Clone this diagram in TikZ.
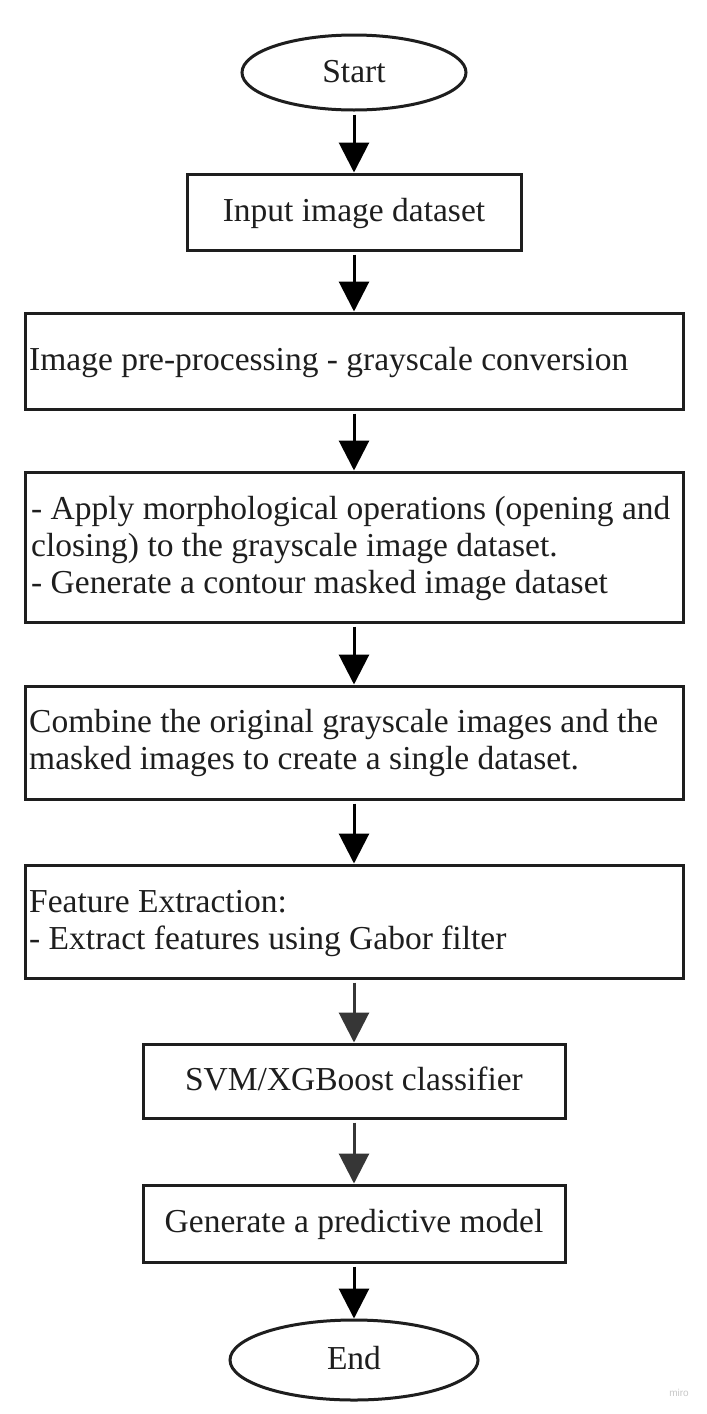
\documentclass[tikz,border=0pt]{standalone}
\usepackage{fontspec}
\setmainfont{Liberation Serif}
\newfontfamily\mirofont{Liberation Sans}
\usetikzlibrary{arrows.meta,shapes.geometric}
\definecolor{ink}{HTML}{1E1E1E}
\definecolor{greyarrow}{HTML}{363636}
\definecolor{mirogrey}{HTML}{C8C8C8}
\tikzset{
  x=1pt, y=-1pt,
  flowbox/.style={draw=ink, line width=3pt, rectangle, inner sep=0pt},
  term/.style={draw=ink, line width=3pt, ellipse, inner sep=0pt},
  lbl/.style={font=\fontsize{33.5}{37}\selectfont, text=ink, inner sep=0pt},
  lblw/.style={lbl, anchor=base west, align=left},
  flow/.style={line width=3pt, draw=black, -{Triangle[width=30pt,length=30pt]}, shorten >=0pt},
  flowgrey/.style={flow, draw=greyarrow, -{Triangle[width=30pt,length=30pt,fill=greyarrow]}}
}
\begin{document}
\begin{tikzpicture}
\useasboundingbox[fill=white] (0,0) rectangle (707,1414);
% nodes
\node[term, minimum width=224pt, minimum height=75pt] (start) at (354,72.5) {};
\node[lbl, anchor=base] (startt) at (354,82) {Start};

\node[flowbox, minimum width=334pt, minimum height=76pt] (b1) at (354,212) {};
\node[lbl, anchor=base] (b1t) at (354,221) {Input image dataset};

\node[flowbox, minimum width=658pt, minimum height=96pt] (b2) at (354,361) {};
\node[lblw] (b2t) at (29,370) {Image pre-processing - grayscale conversion};

\node[flowbox, minimum width=658pt, minimum height=150pt] (b3) at (354,547) {};
\node[lblw] (b3a) at (31,519) {- Apply morphological operations (opening and};
\node[lblw] (b3b) at (31,556) {closing) to the grayscale image dataset.};
\node[lblw] (b3c) at (31,593) {- Generate a contour masked image dataset};

\node[flowbox, minimum width=658pt, minimum height=113pt] (b4) at (354,742.5) {};
\node[lblw] (b4a) at (29,732) {Combine the original grayscale images and the};
\node[lblw] (b4b) at (29,769) {masked images to create a single dataset.};

\node[flowbox, minimum width=658pt, minimum height=113pt] (b5) at (354,921.5) {};
\node[lblw] (b5a) at (29,912) {Feature Extraction:};
\node[lblw] (b5b) at (29,949) {- Extract features using Gabor filter};

\node[flowbox, minimum width=422pt, minimum height=74pt] (b6) at (354,1081) {};
\node[lbl, anchor=base] (b6t) at (354,1090) {SVM/XGBoost classifier};

\node[flowbox, minimum width=422pt, minimum height=77pt] (b7) at (354,1223.5) {};
\node[lbl, anchor=base] (b7t) at (354,1232) {Generate a predictive model};

\node[term, minimum width=248pt, minimum height=80pt] (end) at (354,1360) {};
\node[lbl, anchor=base] (endt) at (354,1369) {End};

\node[font=\mirofont\fontsize{10}{11}\selectfont, text=mirogrey, inner sep=0pt] (miro) at (679,1393) {miro};

% connectors
\draw[flow] (start.south) ++(0,3) -- (b1.north);
\draw[flow] (b1.south) ++(0,3) -- (b2.north);
\draw[flow] (b2.south) ++(0,3) -- (b3.north);
\draw[flow] (b3.south) ++(0,3) -- (b4.north);
\draw[flow] (b4.south) ++(0,3) -- (b5.north);
\draw[flowgrey] (b5.south) ++(0,3) -- (b6.north);
\draw[flowgrey] (b6.south) ++(0,3) -- (b7.north);
\draw[flow] (b7.south) ++(0,3) -- (end.north);
\end{tikzpicture}
\end{document}
